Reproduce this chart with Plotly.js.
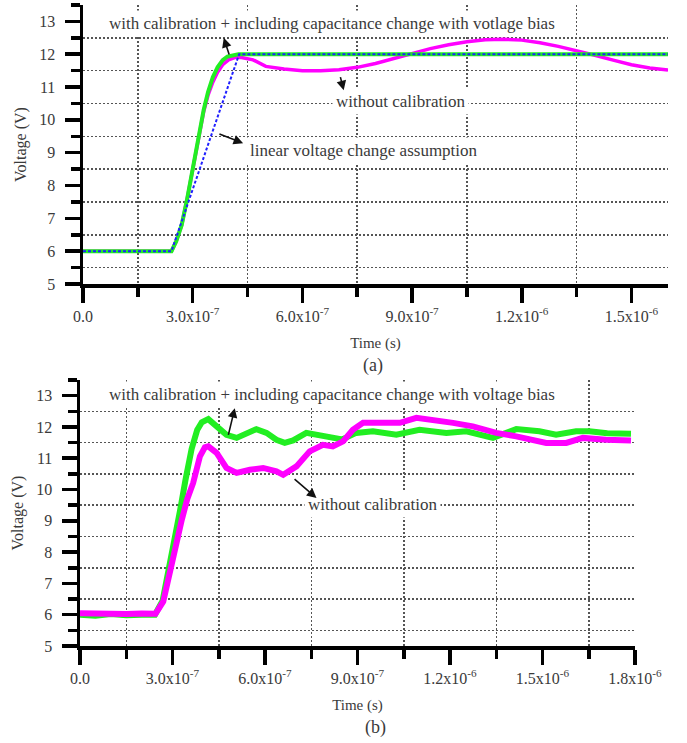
<!DOCTYPE html>
<html>
<head>
<meta charset="utf-8">
<script src="https://cdn.plot.ly/plotly-3.0.1.min.js"></script>
<style>
  html, body { margin: 0; padding: 0; background: #fff; }
  #chart { width: 687px; height: 743px; }
</style>
</head>
<body>
<div id="chart"></div>
<script>
// ---- Panel (a): simulated step response ----
const tA_cal = [0, 2.42e-7, 2.55e-7, 2.7e-7, 2.85e-7, 3.0e-7, 3.15e-7, 3.3e-7, 3.42e-7, 3.55e-7, 3.68e-7, 3.82e-7, 3.95e-7, 4.1e-7, 4.25e-7, 1.6e-6];
const vA_cal = [6, 6, 6.3, 6.8, 7.6, 8.5, 9.4, 10.3, 10.85, 11.3, 11.6, 11.82, 11.93, 11.98, 12.0, 12.0];

const tA_nocal = [0, 2.42e-7, 2.55e-7, 2.7e-7, 2.85e-7, 3.0e-7, 3.15e-7, 3.3e-7, 3.42e-7, 3.55e-7, 3.68e-7, 3.82e-7, 3.98e-7, 4.15e-7, 4.3e-7, 4.65e-7,
  5.0e-7, 5.5e-7, 6.0e-7, 6.5e-7, 7.0e-7, 7.5e-7, 8.0e-7, 8.5e-7, 9.0e-7, 9.5e-7, 1.0e-6, 1.05e-6, 1.1e-6, 1.15e-6, 1.2e-6, 1.25e-6, 1.3e-6, 1.35e-6, 1.4e-6, 1.45e-6, 1.5e-6, 1.55e-6, 1.6e-6];
const vA_nocal = [6, 6, 6.3, 6.8, 7.6, 8.5, 9.4, 10.25, 10.75, 11.15, 11.45, 11.68, 11.83, 11.9, 11.91, 11.83,
  11.63, 11.55, 11.5, 11.5, 11.53, 11.6, 11.72, 11.87, 12.03, 12.17, 12.29, 12.38, 12.44, 12.46, 12.43, 12.35, 12.24, 12.11, 11.97, 11.82, 11.68, 11.58, 11.52];

const tA_lin = [0, 2.42e-7, 4.27e-7, 1.6e-6];
const vA_lin = [6, 6, 12, 12];

// ---- Panel (b): measured step response ----
const tB_cal = [0, 0.5e-7, 1.0e-7, 1.5e-7, 2.0e-7, 2.43e-7, 2.68e-7, 2.88e-7, 3.06e-7, 3.24e-7, 3.42e-7, 3.62e-7, 3.8e-7, 3.95e-7, 4.16e-7,
  4.43e-7, 4.75e-7, 5.08e-7, 5.4e-7, 5.72e-7, 6.05e-7, 6.37e-7, 6.64e-7, 6.91e-7, 7.34e-7, 7.67e-7, 8.1e-7, 8.5e-7, 8.96e-7, 9.5e-7,
  1.026e-6, 1.101e-6, 1.188e-6, 1.253e-6, 1.339e-6, 1.415e-6, 1.49e-6, 1.544e-6, 1.609e-6, 1.652e-6, 1.71e-6, 1.787e-6];
const vB_cal = [6.0, 5.97, 6.02, 5.98, 6.0, 6.0, 6.45, 7.4, 8.4, 9.3, 10.3, 11.3, 11.9, 12.15, 12.25,
  12.02, 11.75, 11.65, 11.81, 11.93, 11.81, 11.59, 11.49, 11.57, 11.81, 11.75, 11.65, 11.6, 11.81, 11.86,
  11.75, 11.91, 11.81, 11.86, 11.65, 11.93, 11.86, 11.75, 11.86, 11.86, 11.8, 11.78];

const tB_nocal = [0, 0.5e-7, 1.0e-7, 1.5e-7, 2.0e-7, 2.45e-7, 2.7e-7, 2.92e-7, 3.13e-7, 3.3e-7, 3.48e-7, 3.67e-7, 3.89e-7, 4.05e-7, 4.16e-7,
  4.43e-7, 4.75e-7, 5.08e-7, 5.51e-7, 5.94e-7, 6.37e-7, 6.59e-7, 7.02e-7, 7.45e-7, 7.88e-7, 8.2e-7, 8.53e-7, 8.85e-7, 9.18e-7, 9.94e-7,
  1.037e-6, 1.091e-6, 1.145e-6, 1.21e-6, 1.274e-6, 1.35e-6, 1.415e-6, 1.512e-6, 1.577e-6, 1.631e-6, 1.706e-6, 1.787e-6];
const vB_nocal = [6.05, 6.03, 6.05, 6.02, 6.04, 6.03, 6.42, 7.43, 8.39, 9.03, 9.7, 10.21, 11.06, 11.35, 11.38,
  11.17, 10.69, 10.53, 10.63, 10.69, 10.58, 10.47, 10.74, 11.22, 11.43, 11.38, 11.54, 11.91, 12.13, 12.13,
  12.13, 12.29, 12.23, 12.13, 12.02, 11.81, 11.7, 11.49, 11.49, 11.65, 11.59, 11.57];

// ---- Axis ticks ----
const yTicks = [5, 6, 7, 8, 9, 10, 11, 12, 13];
const yMinor = [5.5, 6.5, 7.5, 8.5, 9.5, 10.5, 11.5, 12.5, 13.5];
const xTicksA = [0, 3e-7, 6e-7, 9e-7, 1.2e-6, 1.5e-6];
const xLabelsA = ['0.0', '3.0x10<sup>-7</sup>', '6.0x10<sup>-7</sup>', '9.0x10<sup>-7</sup>', '1.2x10<sup>-6</sup>', '1.5x10<sup>-6</sup>'];
const xMinorA = [1.5e-7, 4.5e-7, 7.5e-7, 1.05e-6, 1.35e-6];
const xTicksB = [0, 3e-7, 6e-7, 9e-7, 1.2e-6, 1.5e-6, 1.8e-6];
const xLabelsB = ['0.0', '3.0x10<sup>-7</sup>', '6.0x10<sup>-7</sup>', '9.0x10<sup>-7</sup>', '1.2x10<sup>-6</sup>', '1.5x10<sup>-6</sup>', '1.8x10<sup>-6</sup>'];
const xMinorB = [1.5e-7, 4.5e-7, 7.5e-7, 1.05e-6, 1.35e-6, 1.65e-6];

const SERIF = 'Liberation Serif, Times New Roman, serif';
const TXT = '#3a3a3a';
const W = 687, H = 743;

const traces = [
  { x: tA_nocal, y: vA_nocal, xaxis: 'x', yaxis: 'y', mode: 'lines', line: { color: '#ff00ff', width: 3.5 } },
  { x: tA_cal, y: vA_cal, xaxis: 'x', yaxis: 'y', mode: 'lines', line: { color: '#22ee22', width: 4 } },
  { x: tA_lin, y: vA_lin, xaxis: 'x', yaxis: 'y', mode: 'lines', line: { color: '#2020ff', width: 2, dash: '3px,2px' } },
  { x: tB_cal, y: vB_cal, xaxis: 'x2', yaxis: 'y2', mode: 'lines', line: { color: '#22ee22', width: 6 } },
  { x: tB_nocal, y: vB_nocal, xaxis: 'x2', yaxis: 'y2', mode: 'lines', line: { color: '#ff00ff', width: 6 } }
];

const gridStyle = { gridcolor: '#555', gridwidth: 1.5, griddash: '2px,2px' };

function xAxis(range, vals, labels, minorVals, domain, anchor) {
  return {
    domain: domain, anchor: anchor, range: range,
    showline: true, linecolor: '#000', linewidth: 3.5,
    ticks: 'outside', ticklen: 15, tickwidth: 3.5, tickcolor: '#000',
    tickmode: 'array', tickvals: vals, ticktext: labels,
    tickfont: { family: SERIF, size: 16, color: TXT },
    ticklabelstandoff: 0,
    showgrid: false, zeroline: false,
    minor: Object.assign({ ticks: 'outside', tickmode: 'array', tickvals: minorVals, ticklen: 9, tickwidth: 3.5,
                           tickcolor: '#000', showgrid: true }, gridStyle),
    title: { text: 'Time (s)', font: { family: SERIF, size: 15, color: TXT }, standoff: 15 }
  };
}
function yAxis(domain, anchor) {
  return {
    domain: domain, anchor: anchor, range: [5, 13.5],
    showline: true, linecolor: '#000', linewidth: 3.5,
    ticks: 'outside', ticklen: 15, tickwidth: 3.5, tickcolor: '#000',
    tickmode: 'array', tickvals: yTicks,
    tickfont: { family: SERIF, size: 16, color: TXT },
    ticklabelstandoff: 6,
    showgrid: false, zeroline: false,
    minor: Object.assign({ ticks: 'outside', tickmode: 'array', tickvals: yMinor, ticklen: 9, tickwidth: 3.5,
                           tickcolor: '#000', showgrid: true }, gridStyle),
    title: { text: 'Voltage (V)', font: { family: SERIF, size: 16, color: TXT }, standoff: 9 }
  };
}

const labelFont = { family: SERIF, size: 17, color: TXT };
function label(text, x, y, xr, yr) {
  return { text: text, x: x, y: y, xref: xr, yref: yr, showarrow: false, font: labelFont,
           bgcolor: '#fff', borderpad: 3, xanchor: 'center', yanchor: 'middle' };
}
function arrow(xHead, yHead, xTail, yTail, xr, yr) {
  return { text: '', x: xHead, y: yHead, ax: xTail, ay: yTail, xref: xr, yref: yr, axref: xr, ayref: yr,
           showarrow: true, arrowhead: 2, arrowsize: 1.2, arrowwidth: 1.6, arrowcolor: '#111' };
}

const layout = {
  width: W, height: H,
  margin: { l: 0, r: 0, t: 0, b: 0 },
  paper_bgcolor: '#fff', plot_bgcolor: '#fff',
  showlegend: false,
  xaxis: xAxis([0, 1.6e-6], xTicksA, xLabelsA, xMinorA, [83 / W, 668 / W], 'y'),
  yaxis: yAxis([1 - 284 / H, 1 - 5 / H], 'x'),
  xaxis2: xAxis([0, 1.8e-6], xTicksB, xLabelsB, xMinorB, [80 / W, 635 / W], 'y2'),
  yaxis2: yAxis([1 - 646 / H, 1 - 380 / H], 'x2'),
  annotations: [
    label('with calibration + including capacitance change with votlage bias', 6.8e-7, 12.93, 'x', 'y'),
    arrow(3.85e-7, 12.5, 4.01e-7, 11.95, 'x', 'y'),
    label('without calibration', 8.69e-7, 10.55, 'x', 'y'),
    arrow(7.13e-7, 10.9, 7.03e-7, 11.35, 'x', 'y'),
    label('linear voltage change assumption', 7.69e-7, 9.06, 'x', 'y'),
    arrow(4.38e-7, 9.29, 3.69e-7, 9.59, 'x', 'y'),
    label('with calibration + including capacitance change with voltage bias', 8.16e-7, 13.03, 'x2', 'y2'),
    arrow(5.02e-7, 12.6, 4.8e-7, 11.7, 'x2', 'y2'),
    label('without calibration', 9.49e-7, 9.51, 'x2', 'y2'),
    arrow(7.67e-7, 9.73, 6.91e-7, 10.37, 'x2', 'y2'),
    { text: '(a)', x: 373 / W, y: 1 - 365 / H, xref: 'paper', yref: 'paper', showarrow: false,
      font: { family: SERIF, size: 18, color: TXT }, xanchor: 'center', yanchor: 'middle' },
    { text: '(b)', x: 375 / W, y: 1 - 727 / H, xref: 'paper', yref: 'paper', showarrow: false,
      font: { family: SERIF, size: 18, color: TXT }, xanchor: 'center', yanchor: 'middle' }
  ]
};

Plotly.newPlot('chart', traces, layout, { displayModeBar: false, staticPlot: true });
</script>
</body>
</html>
